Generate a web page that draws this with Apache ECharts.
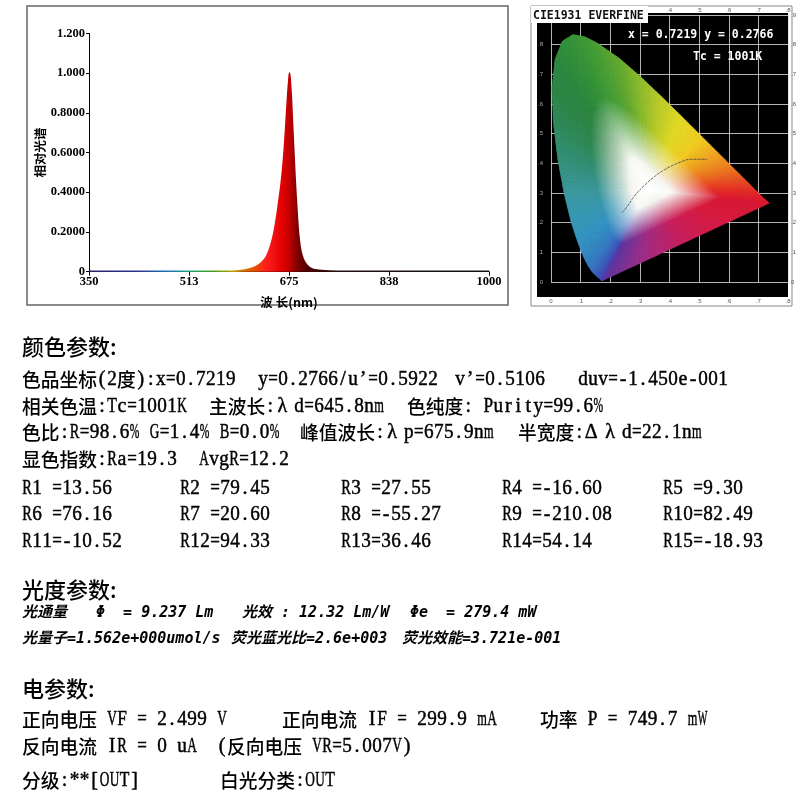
<!DOCTYPE html>
<html>
<head>
<meta charset="utf-8">
<script src="https://cdn.jsdelivr.net/npm/echarts@6/dist/echarts.min.js"></script>
<style>
html,body{margin:0;padding:0;background:#fff;}
#main{width:800px;height:800px;}
</style>
</head>
<body>
<div id="main"></div>
<script>
// 相对光谱
var wavelength = [350, 400, 450, 500, 550, 590, 605, 620, 630, 638, 645, 650, 655, 659, 662, 665, 668, 671, 673, 675, 675.9,
  677, 679, 681, 683, 685, 687, 689, 691, 694, 698, 703, 710, 720, 740, 800, 900, 1000];
var relSpectrum = [0.002, 0.002, 0.002, 0.002, 0.002, 0.004, 0.010, 0.024, 0.045, 0.075, 0.13, 0.19, 0.28, 0.37, 0.44, 0.53, 0.65, 0.80, 0.90, 0.98, 1.0,
  0.97, 0.87, 0.73, 0.60, 0.47, 0.36, 0.26, 0.18, 0.11, 0.065, 0.038, 0.018, 0.008, 0.004, 0.002, 0.002, 0.002];
var xTickLabels = ['350', '513', '675', '838', '1000'];
var yTickLabels = ['0', '0.2000', '0.4000', '0.6000', '0.8000', '1.000', '1.200'];

// CIE1931 光谱轨迹
var locusNm = [380, 400, 420, 440, 450, 460, 465, 470, 475, 480, 485, 490, 495, 500, 505, 510, 515, 520, 525, 530,
  540, 550, 560, 570, 580, 590, 600, 610, 620, 640, 660, 700, 'p1', 'p2', 'p3'];
var locusX = [0.1741, 0.1733, 0.1714, 0.1644, 0.1566, 0.1440, 0.1355, 0.1241, 0.1096, 0.0913, 0.0687, 0.0454, 0.0235, 0.0082, 0.0039, 0.0139, 0.0389, 0.0743, 0.1142, 0.1547,
  0.2296, 0.3016, 0.3731, 0.4441, 0.5125, 0.5752, 0.6270, 0.6658, 0.6915, 0.7190, 0.7300, 0.7347, 0.5946, 0.4544, 0.3143];
var locusY = [0.0050, 0.0048, 0.0051, 0.0109, 0.0177, 0.0297, 0.0399, 0.0578, 0.0868, 0.1327, 0.2007, 0.2950, 0.4127, 0.5384, 0.6548, 0.7502, 0.8120, 0.8338, 0.8262, 0.8059,
  0.7543, 0.6923, 0.6245, 0.5547, 0.4866, 0.4242, 0.3725, 0.3340, 0.3083, 0.2809, 0.2700, 0.2653, 0.2003, 0.1352, 0.0701];
var locusColor = ['#5a34a0', '#5236a6', '#4a3cac', '#4248b4', '#3c56b8', '#3866bc', '#3672c0', '#347ec4', '#348ac6', '#3494c4', '#3698b6', '#3a98a0', '#34907a', '#2e8a5a', '#2c8646', '#2c883e', '#30903a', '#389638', '#409c36', '#4aa034',
  '#64aa30', '#8cbc2c', '#bccc28', '#e2da24', '#f2cc20', '#f09c20', '#ec6c20', '#e84422', '#e42e26', '#de1e2c', '#da1a30', '#d81832', '#d81a40', '#c81e5a', '#a02c84'];
var whitePoint = [0.33, 0.31];
// 普朗克轨迹
var planckX = [0.2399, 0.2565, 0.2807, 0.3135, 0.3451, 0.3805, 0.4369, 0.4770, 0.5267];
var planckY = [0.2342, 0.2530, 0.2884, 0.3237, 0.3516, 0.3768, 0.4041, 0.4137, 0.4133];
var cieTicks = ['0', '.1', '.2', '.3', '.4', '.5', '.6', '.7', '.8', '.9'];

var chart = echarts.init(document.getElementById('main'));

// 光谱颜色渐变 (按波长换算 offset)
function off(nm) { return (nm - 350) / 650; }
var specStops = [
  { offset: off(350), color: '#2a2060' },
  { offset: off(430), color: '#2a3090' },
  { offset: off(480), color: '#2070b0' },
  { offset: off(513), color: '#20a080' },
  { offset: off(550), color: '#40a020' },
  { offset: off(585), color: '#c0a000' },
  { offset: off(612), color: '#e06000' },
  { offset: off(640), color: '#ff1a1a' },
  { offset: off(665), color: '#e00000' },
  { offset: off(676), color: '#c00000' },
  { offset: off(688), color: '#800000' },
  { offset: off(705), color: '#500000' },
  { offset: off(760), color: '#201010' },
  { offset: 1, color: '#101010' }
];

var cjkFont = '500 18.75px "Noto Sans CJK SC"';
var ascFont = '20px "Liberation Serif"';
var headFont = '500 22px "Noto Sans CJK SC"';
var italFont = 'italic bold 15px "DejaVu Sans Mono", "Noto Sans CJK SC"';
var cieFont = 'bold 11.5px "DejaVu Sans Mono"';

var measureCtx = document.createElement('canvas').getContext('2d');
function measure(s, font) {
  measureCtx.font = font;
  return measureCtx.measureText(s).width;
}

function txt(x, y, s, font, color) {
  return { type: 'text', x: x, y: y, z: 100, style: { text: s, font: font, fill: color || '#000', verticalAlign: 'middle' } };
}

// 宋体风格排版: 中文全角 18.75px, 西文半角等宽 10px
function isGreek(ch) {
  var c = ch.charCodeAt(0);
  return c >= 0x370 && c <= 0x3FF;
}
function isWide(ch) {
  return ch.charCodeAt(0) >= 0x2E80 || isGreek(ch);
}
function ascChar(cx, y, ch, cell) {
  var w = measure(ch, ascFont);
  var el = txt(cx, y, ch, ascFont);
  el.style.align = 'center';
  el.style.stroke = '#000';
  el.style.lineWidth = 0.45;
  if (w > cell) el.scaleX = cell / w;
  return el;
}
function line(x, y, s) {
  var out = [];
  var cur = x;
  for (var i = 0; i < s.length; i++) {
    var ch = s[i];
    if (isGreek(ch)) {
      out.push(ascChar(cur + 7, y, ch, 14));
      cur += 18.75;
    } else if (isWide(ch)) {
      out.push(txt(cur, y, ch, cjkFont));
      cur += 18.75;
    } else {
      if (ch !== ' ') out.push(ascChar(cur + 5, y, ch, 9.6));
      cur += 10;
    }
  }
  return out;
}

var texts = [
  txt(22, 347, '颜色参数:', headFont),
  txt(22, 590, '光度参数:', headFont),
  txt(22, 689, '电参数:', headFont),
  txt(22, 613, '光通量', italFont),
  txt(96, 613, 'Φ  = 9.237 Lm', italFont),
  txt(242, 613, '光效 : 12.32 Lm/W', italFont),
  txt(410, 613, 'Φe  = 279.4 mW', italFont),
  txt(22, 639, '光量子=1.562e+000umol/s', italFont),
  txt(231, 639, '荧光蓝光比=2.6e+003', italFont),
  txt(402, 639, '荧光效能=3.721e-001', italFont)
].concat(
  line(22, 380, '色品坐标(2度):x=0.7219'),
  line(258, 380, 'y=0.2766/u’=0.5922'),
  line(455, 380, 'v’=0.5106'),
  line(578, 380, 'duv=-1.450e-001'),
  line(22, 407, '相关色温:Tc=1001K'),
  line(209, 407, '主波长:λd=645.8nm'),
  line(407, 407, '色纯度: Purity=99.6%'),
  line(22, 433, '色比:R=98.6% G=1.4% B=0.0%'),
  line(300, 433, '峰值波长:λp=675.9nm'),
  line(518, 433, '半宽度:Δλd=22.1nm'),
  line(22, 460, '显色指数:Ra=19.3'),
  line(199, 460, 'AvgR=12.2'),

  line(22, 489, 'R1 =13.56'), line(180, 489, 'R2 =79.45'), line(341, 489, 'R3 =27.55'),
  line(502, 489, 'R4 =-16.60'), line(663, 489, 'R5 =9.30'),
  line(22, 515, 'R6 =76.16'), line(180, 515, 'R7 =20.60'), line(341, 515, 'R8 =-55.27'),
  line(502, 515, 'R9 =-210.08'), line(663, 515, 'R10=82.49'),
  line(22, 542, 'R11=-10.52'), line(180, 542, 'R12=94.33'), line(341, 542, 'R13=36.46'),
  line(502, 542, 'R14=54.14'), line(663, 542, 'R15=-18.93'),

  line(22, 720, '正向电压 VF = 2.499 V'),
  line(282, 720, '正向电流 IF = 299.9 mA'),
  line(540, 720, '功率 P = 749.7 mW'),
  line(22, 747, '反向电流 IR = 0 uA  (反向电压 VR=5.007V)'),
  line(22, 781, '分级:**[OUT]'),
  line(220, 781, '白光分类:OUT')
);

var graphics = [
  // 光谱图外框
  { type: 'rect', z: -1, shape: { x: 27, y: 6, width: 481, height: 299 }, style: { fill: '#fff', stroke: '#666', lineWidth: 1.5 } },
  // CIE 图外框与黑底
  { type: 'rect', z: -2, shape: { x: 531, y: 6, width: 261, height: 300 }, style: { fill: '#fff', stroke: '#888', lineWidth: 1 } },
  { type: 'rect', z: -1, shape: { x: 537, y: 13, width: 251, height: 284 }, style: { fill: '#000' } },
  { type: 'rect', z: 99, shape: { x: 531, y: 6, width: 117, height: 17 }, style: { fill: '#fff' } },
  txt(533, 16, 'CIE1931 EVERFINE', cieFont, '#111'),
  txt(628, 35, 'x = 0.7219 y = 0.2766', cieFont, '#fff'),
  txt(693, 57, 'Tc = 1001K', cieFont, '#fff')
].concat(texts);

var axisFont = { fontFamily: 'Liberation Serif', fontWeight: 'bold', fontSize: 12.5, color: '#000' };
var nameFont = { fontFamily: 'Noto Sans CJK SC', fontWeight: 'bold', fontSize: 12.5, color: '#000' };

var option = {
  animation: false,
  backgroundColor: '#fff',
  graphic: graphics,
  grid: [
    { left: 89, right: 311, top: 33.3, bottom: 528.3 },
    { left: 551, right: 12, top: 15, bottom: 518 }
  ],
  xAxis: [
    {
      gridIndex: 0, type: 'value', min: 350, max: 1000, interval: 162.5,
      name: '波 长(nm)', nameLocation: 'middle', nameGap: 24, nameTextStyle: nameFont,
      axisLine: { lineStyle: { color: '#000', width: 1 } },
      axisTick: { length: 4, lineStyle: { color: '#000' } },
      axisLabel: Object.assign({ margin: 4, formatter: function (v) { return xTickLabels[Math.round((v - 350) / 162.5)]; } }, axisFont),
      splitLine: { show: false }
    },
    {
      gridIndex: 1, type: 'value', min: 0, max: 0.8, interval: 0.1,
      axisLine: { show: false }, axisTick: { show: false },
      axisLabel: { margin: 16, fontSize: 6, color: '#555', formatter: function (v) { return cieTicks[Math.round(v * 10)]; } },
      splitLine: { lineStyle: { color: 'rgba(225,225,225,0.8)', width: 1 } }
    },
    {
      gridIndex: 1, type: 'value', min: 0, max: 0.8, interval: 0.1, position: 'top',
      axisLine: { show: false }, axisTick: { show: false },
      axisLabel: { margin: 2, fontSize: 6, color: '#555', formatter: function (v) { return cieTicks[Math.round(v * 10)]; } },
      splitLine: { show: false }
    }
  ],
  yAxis: [
    {
      gridIndex: 0, type: 'value', min: 0, max: 1.2, interval: 0.2,
      name: '相对光谱', nameLocation: 'middle', nameGap: 40, nameRotate: 90, nameTextStyle: nameFont,
      axisLine: { show: true, lineStyle: { color: '#000', width: 1 } },
      axisTick: { show: true, length: 3, lineStyle: { color: '#000' } },
      axisLabel: Object.assign({ margin: 4, formatter: function (v) { return yTickLabels[Math.round(v / 0.2)]; } }, axisFont),
      splitLine: { show: false }
    },
    {
      gridIndex: 1, type: 'value', min: 0, max: 0.9, interval: 0.1,
      axisLine: { show: false }, axisTick: { show: false },
      axisLabel: { margin: 8, fontSize: 6, color: '#aaa', formatter: function (v) { return cieTicks[Math.round(v * 10)]; } },
      splitLine: { lineStyle: { color: 'rgba(225,225,225,0.8)', width: 1 } }
    },
    {
      gridIndex: 1, type: 'value', min: 0, max: 0.9, interval: 0.1, position: 'right',
      axisLine: { show: false }, axisTick: { show: false },
      axisLabel: { margin: 3, fontSize: 6, color: '#555', formatter: function (v) { return cieTicks[Math.round(v * 10)]; } },
      splitLine: { show: false }
    }
  ],
  series: [
    {
      name: '相对光谱',
      type: 'line',
      xAxisIndex: 0, yAxisIndex: 0,
      data: wavelength.map(function (w, i) { return [w, relSpectrum[i]]; }),
      symbol: 'none',
      smooth: 0.25,
      lineStyle: { width: 1.5, color: new echarts.graphic.LinearGradient(0, 0, 1, 0, specStops) },
      areaStyle: { opacity: 1, color: new echarts.graphic.LinearGradient(0, 0, 1, 0, specStops) }
    },
    {
      name: 'CIE1931',
      type: 'custom',
      xAxisIndex: 1, yAxisIndex: 1,
      data: locusX.map(function (x, i) { return [x, locusY[i]]; }),
      encode: { x: 0, y: 1 },
      renderItem: function (params, api) {
        var i = params.dataIndex;
        var j = (i + 1) % locusX.length;
        var w = api.coord(whitePoint);
        var p1 = api.coord([locusX[i], locusY[i]]);
        var p2 = api.coord([locusX[j], locusY[j]]);
        var steps = 8;
        var children = [];
        // 每段再细分成小三角形, 颜色逐步过渡
        for (var k = 0; k < steps; k++) {
          var t0 = k / steps, t1 = (k + 1) / steps;
          var a = [p1[0] + (p2[0] - p1[0]) * t0, p1[1] + (p2[1] - p1[1]) * t0];
          var b = [p1[0] + (p2[0] - p1[0]) * t1, p1[1] + (p2[1] - p1[1]) * t1];
          var m = [(a[0] + b[0]) / 2, (a[1] + b[1]) / 2];
          var c = echarts.color.lerp((t0 + t1) / 2, [locusColor[i], locusColor[j]]);
          var grad = new echarts.graphic.LinearGradient(w[0], w[1], m[0], m[1], [
            { offset: 0, color: '#ffffff' },
            { offset: 0.2, color: '#f8f8f4' },
            { offset: 0.6, color: c },
            { offset: 1, color: c }
          ], true);
          children.push({
            type: 'polygon',
            shape: { points: [w, a, b] },
            style: { fill: grad, stroke: grad, lineWidth: 0.8 }
          });
        }
        return { type: 'group', children: children };
      }
    },
    {
      name: 'Planck',
      type: 'line',
      xAxisIndex: 1, yAxisIndex: 1,
      data: planckX.map(function (x, i) { return [x, planckY[i]]; }),
      symbol: 'none',
      smooth: true,
      z: 5,
      lineStyle: { color: '#444', width: 0.8, type: [3, 1] }
    }
  ]
};

chart.setOption(option);
window.addEventListener('resize', function () {
  chart.resize();
});
</script>
</body>
</html>
